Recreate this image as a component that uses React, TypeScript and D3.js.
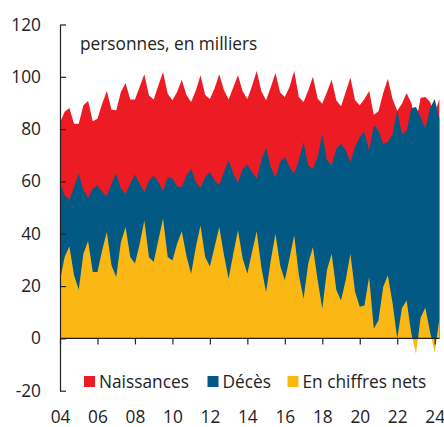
import React, { useEffect, useRef } from "react";
import * as d3 from "d3";

// quarterly, thousands of people, 2004 Q1 .. 2024 Q2
const startYear = 2004;

const births = [
  82.5, 86.6, 88.1, 82.1, 82.1, 89.1, 90.8, 83.0, 84.0, 89.7, 94.6, 87.4,
  87.2, 94.2, 97.6, 91.3, 91.3, 96.1, 101.0, 92.9, 91.3, 96.7, 101.8, 93.5,
  91.0, 94.2, 98.9, 93.0, 90.4, 94.8, 100.6, 93.0, 91.5, 95.5, 101.0, 95.0,
  91.3, 96.0, 100.6, 94.5, 91.5, 96.5, 102.2, 94.5, 91.0, 96.0, 101.5, 94.0,
  92.3, 96.1, 102.2, 92.3, 90.4, 94.8, 100.0, 91.7, 89.7, 94.2, 98.9, 91.0,
  88.7, 94.2, 99.7, 91.0, 89.1, 91.5, 94.6, 85.5, 86.8, 93.8, 99.3, 91.5,
  87.0, 89.7, 93.8, 90.0, 82.6, 92.0, 92.3, 90.5, 86.0, 91.5,
];

const deaths = [
  60.0, 54.7, 53.0, 57.9, 63.0, 56.6, 53.8, 57.2, 58.5, 56.0, 54.3, 59.1,
  63.0, 57.2, 55.3, 59.1, 62.7, 59.1, 56.0, 60.4, 62.3, 59.8, 56.3, 61.7,
  61.1, 58.1, 57.9, 62.3, 64.9, 59.8, 57.6, 61.7, 63.6, 60.4, 58.5, 63.6,
  68.1, 63.0, 59.4, 64.9, 66.5, 63.6, 61.1, 68.1, 72.9, 65.5, 61.4, 67.4,
  69.3, 65.5, 63.0, 68.1, 75.1, 66.2, 64.9, 69.3, 78.0, 68.1, 66.2, 72.5,
  74.4, 71.9, 67.4, 73.2, 77.0, 78.9, 71.6, 81.5, 79.5, 74.4, 75.1, 78.0,
  87.2, 78.0, 79.3, 88.0, 88.5, 84.6, 80.2, 88.0, 91.5, 84.0,
];

const net = [
  22.2, 31.1, 35.2, 24.1, 18.6, 32.4, 37.2, 25.4, 25.4, 33.7, 40.7, 27.9,
  23.5, 36.8, 42.6, 31.1, 28.6, 36.0, 45.1, 31.0, 29.2, 37.5, 45.8, 31.1,
  29.8, 36.2, 41.0, 31.5, 24.7, 34.9, 43.2, 31.1, 27.5, 34.9, 42.6, 32.0,
  22.8, 32.4, 41.3, 30.5, 24.7, 33.0, 41.0, 27.0, 17.7, 29.8, 40.0, 28.0,
  22.2, 30.6, 39.4, 24.2, 15.2, 28.6, 34.9, 22.4, 11.3, 26.1, 32.4, 18.5,
  14.5, 22.3, 32.4, 17.8, 12.1, 12.6, 23.5, 3.7, 6.9, 19.6, 24.1, 13.5,
  0.0, 11.5, 14.5, 2.0, -5.9, 8.0, 11.7, 2.5, -5.5, 7.5,
];

const yTicks = [-20, 0, 20, 40, 60, 80, 100, 120];
const xTicks = [2004, 2006, 2008, 2010, 2012, 2014, 2016, 2018, 2020, 2022, 2024];

const seriesNames = ["Naissances", "Décès", "En chiffres nets"];
const colors = ["#ED1C24", "#025A84", "#FBB814"];

const W = 444;
const H = 427;
const FONT = "'Open Sans', 'Noto Sans', sans-serif";
const FS = 17.3;

const Chart = () => {
  const ref = useRef(null);

  useEffect(() => {
    const svg = d3.select(ref.current);
    svg.selectAll("*").remove();

    const x = d3.scaleLinear().domain([2004, 2024]).range([60, 434.7]);
    const y = d3.scaleLinear().domain([-20, 120]).range([390.7, 24.5]);

    const t = (i) => startYear + i / 4;

    const area = (vals) =>
      d3
        .area()
        .x((d, i) => x(t(i)))
        .y0(y(0))
        .y1((d) => y(d))(vals);

    [births, deaths, net].forEach((vals, k) => {
      svg.append("path").attr("d", area(vals)).attr("fill", colors[k]);
    });

    const styleText = (g) =>
      g
        .selectAll("text")
        .attr("fill", "#222")
        .attr("font-size", FS)
        .attr("font-family", FONT);

    // y axis, ticks pointing inside
    svg
      .append("g")
      .attr("transform", `translate(${x(2004)},0)`)
      .call(
        d3
          .axisLeft(y)
          .tickValues(yTicks)
          .tickFormat((d) => String(d))
          .tickSize(-6)
          .tickSizeOuter(0)
          .tickPadding(19)
      )
      .call((g) => g.selectAll("path, line").attr("stroke", "#222").attr("stroke-width", 1.2))
      .call(styleText);

    // x axis along zero
    const lastX = x(t(births.length - 1));
    svg
      .append("g")
      .attr("transform", `translate(0,${y(0)})`)
      .call(
        d3
          .axisBottom(x)
          .tickValues(xTicks)
          .tickFormat((d) => String(d).slice(2))
          .tickSize(6)
          .tickSizeOuter(0)
          .tickPadding(66.5)
      )
      .call((g) => g.select(".domain").remove())
      .call((g) => g.selectAll("line").attr("stroke", "#222").attr("stroke-width", 1.2))
      .call((g) =>
        g
          .append("line")
          .attr("x1", x(2004))
          .attr("x2", lastX)
          .attr("stroke", "#222")
          .attr("stroke-width", 1.2)
      )
      .call(styleText);

    svg
      .append("text")
      .attr("x", 80)
      .attr("y", 50)
      .attr("fill", "#222")
      .attr("font-size", FS)
      .attr("font-family", FONT)
      .text("personnes, en milliers");

    // legend
    const legendX = [84, 207.5, 287.5];
    const lg = svg.append("g");
    seriesNames.forEach((name, k) => {
      lg.append("rect")
        .attr("x", legendX[k])
        .attr("y", 376)
        .attr("width", 11)
        .attr("height", 11)
        .attr("fill", colors[k]);
      lg.append("text")
        .attr("x", legendX[k] + 15)
        .attr("y", 388)
        .attr("fill", "#222")
        .attr("font-size", FS)
        .attr("font-family", FONT)
        .text(name);
    });
  }, []);

  return (
    <svg
      ref={ref}
      width={W}
      height={H}
      style={{ position: "absolute", left: 0, top: 0, background: "#fff" }}
    />
  );
};

export default function App() {
  return <Chart />;
}
